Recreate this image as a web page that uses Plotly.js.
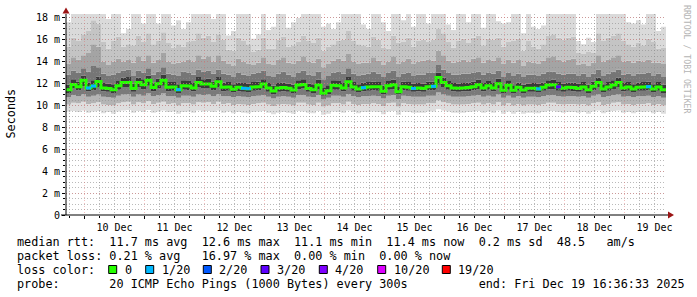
<!DOCTYPE html>
<html><head><meta charset="utf-8">
<script src="https://cdn.plot.ly/plotly-3.0.1.min.js"></script>
<style>html,body{margin:0;padding:0;background:#fff;}#chart{width:697px;height:297px;}</style>
</head><body><div id="chart"></div>
<script>
// ---------- data ----------
const startTime = '2025-12-09 16:36:33';
const endTime = '2025-12-19 16:36:33';
const stepHours = 2;

const median = [
11.45,11.93,11.72,12.30,11.60,11.78,12.20,11.60,11.55,11.45,
11.80,12.10,12.10,11.55,12.10,11.90,12.30,11.65,12.00,12.30,
11.66,11.70,11.45,11.80,11.78,11.60,12.10,11.96,11.96,11.75,
12.17,11.66,11.70,11.48,11.66,11.57,11.54,11.70,11.72,11.96,
11.60,11.32,11.60,11.65,11.57,11.42,11.87,11.93,11.55,11.45,
11.87,11.11,11.35,11.85,11.80,11.60,12.17,11.70,11.50,11.63,
11.70,11.72,11.72,11.30,11.80,11.90,11.26,11.72,11.68,11.55,
11.60,11.55,11.72,11.75,12.55,12.10,11.80,11.60,11.57,11.60,
11.65,11.72,11.90,11.60,11.80,11.60,12.00,11.40,11.85,11.40,
11.66,11.42,11.57,11.57,11.52,11.66,11.87,11.90,11.70,11.57,
11.66,11.65,11.55,11.70,11.45,11.75,12.10,11.50,11.70,11.87,
12.10,11.60,11.70,11.50,11.66,11.70,11.72,11.50,11.70,11.45];

const lostPings = [
0,0,0,0,1,1,0,0,0,0, 0,0,0,0,0,0,0,0,0,0,
0,0,1,0,0,0,0,0,0,0, 0,0,0,0,0,1,1,0,0,0,
0,0,0,0,0,0,0,0,0,0, 0,0,0,0,0,0,0,0,0,1,
0,0,0,0,0,0,0,0,0,1, 0,0,0,1,0,0,0,0,0,0,
0,0,0,0,0,0,0,0,0,0, 0,0,0,0,1,0,0,0,3,0,
0,0,0,0,0,0,0,0,0,0, 0,0,0,0,0,0,1,0,0,0];

const pingMin = [
9.45,9.50,9.40,9.55,9.35,9.45,9.50,9.30,9.40,9.25,
9.45,9.55,9.60,9.35,9.50,9.40,9.60,9.35,9.45,9.55,
9.40,9.45,9.25,9.40,9.45,9.35,9.55,9.45,9.50,9.40,
9.55,9.35,9.45,9.30,9.40,9.35,9.30,9.40,9.45,9.50,
9.35,9.20,9.35,9.40,9.35,9.25,9.50,9.45,9.35,9.30,
9.50,9.15,9.25,9.45,9.40,9.35,9.55,9.40,9.30,9.40,
9.40,9.45,9.40,9.20,9.45,9.50,9.15,9.45,9.40,9.35,
9.35,9.35,9.45,9.45,9.65,9.55,9.45,9.35,9.35,9.35,
9.40,9.45,9.50,9.35,9.45,9.35,9.55,9.25,9.45,9.25,
9.40,9.25,9.35,9.35,9.30,9.40,9.50,9.50,9.40,9.35,
9.40,9.40,9.35,9.40,9.25,9.45,9.55,9.30,9.40,9.50,
9.55,9.35,9.40,9.30,9.40,9.40,9.45,9.30,9.40,9.25];

const ping10 = [
10.10,10.25,10.20,10.35,10.15,10.20,10.30,10.10,10.05,10.00,
10.20,10.30,10.35,10.10,10.30,10.20,10.40,10.15,10.25,10.35,
10.15,10.20,10.00,10.20,10.20,10.10,10.30,10.25,10.30,10.15,
10.35,10.15,10.20,10.05,10.15,10.10,10.05,10.15,10.20,10.25,
10.10,9.95,10.10,10.15,10.10,10.00,10.25,10.25,10.10,10.05,
10.25,9.90,10.00,10.20,10.20,10.10,10.35,10.15,10.05,10.15,
10.15,10.20,10.15,9.95,10.20,10.25,9.90,10.20,10.15,10.10,
10.10,10.10,10.20,10.20,10.45,10.30,10.20,10.10,10.10,10.10,
10.15,10.20,10.25,10.10,10.20,10.10,10.30,10.00,10.20,10.00,
10.15,10.00,10.10,10.10,10.05,10.15,10.25,10.25,10.15,10.10,
10.15,10.15,10.10,10.15,10.00,10.20,10.30,10.05,10.15,10.25,
10.30,10.10,10.15,10.05,10.15,10.15,10.20,10.05,10.15,10.00];

const ping25 = [
10.75,10.95,10.85,11.05,10.80,10.90,11.00,10.80,10.75,10.70,
10.90,11.00,11.05,10.80,11.00,10.90,11.10,10.85,10.95,11.10,
10.85,10.85,10.70,10.90,10.90,10.80,11.00,10.95,11.00,10.85,
11.05,10.85,10.85,10.75,10.85,10.80,10.75,10.85,10.90,10.95,
10.80,10.65,10.80,10.85,10.80,10.70,10.95,10.95,10.80,10.75,
10.95,10.55,10.70,10.90,10.90,10.80,11.05,10.85,10.75,10.85,
10.85,10.90,10.85,10.65,10.90,10.95,10.60,10.90,10.85,10.80,
10.80,10.80,10.90,10.90,11.20,11.00,10.90,10.80,10.80,10.80,
10.85,10.90,10.95,10.80,10.90,10.80,11.00,10.70,10.90,10.70,
10.85,10.70,10.80,10.80,10.75,10.85,10.95,10.95,10.85,10.80,
10.85,10.85,10.80,10.85,10.70,10.90,11.00,10.75,10.85,10.95,
11.00,10.80,10.85,10.75,10.85,10.85,10.90,10.75,10.85,10.70];

const ping40 = [
11.15,11.55,11.40,11.75,11.30,11.40,11.70,11.30,11.25,11.15,
11.45,11.65,11.70,11.25,11.65,11.50,11.80,11.30,11.60,11.80,
11.30,11.35,11.15,11.45,11.40,11.30,11.65,11.55,11.60,11.40,
11.70,11.30,11.35,11.20,11.30,11.25,11.20,11.35,11.40,11.55,
11.25,11.05,11.25,11.30,11.25,11.10,11.50,11.55,11.25,11.15,
11.45,10.90,11.05,11.45,11.45,11.30,11.70,11.35,11.20,11.30,
11.35,11.40,11.35,11.05,11.45,11.50,11.00,11.40,11.35,11.25,
11.30,11.25,11.40,11.40,11.90,11.65,11.45,11.30,11.25,11.30,
11.30,11.40,11.50,11.30,11.45,11.30,11.60,11.10,11.45,11.10,
11.35,11.10,11.25,11.25,11.20,11.35,11.50,11.50,11.35,11.25,
11.35,11.30,11.25,11.35,11.15,11.40,11.65,11.20,11.35,11.50,
11.65,11.30,11.35,11.20,11.35,11.35,11.40,11.20,11.35,11.15];

const ping60 = [
11.90,12.40,12.20,12.75,12.10,12.30,12.65,12.05,12.00,11.95,
12.25,12.55,12.60,12.00,12.55,12.40,12.75,12.10,12.45,12.80,
12.15,12.15,11.95,12.30,12.25,12.05,12.60,12.40,12.45,12.20,
12.60,12.10,12.15,11.95,12.10,12.05,12.00,12.15,12.20,12.40,
12.05,11.80,12.05,12.10,12.00,11.90,12.30,12.40,12.00,11.95,
12.35,11.60,11.85,12.30,12.25,12.05,12.60,12.15,11.95,12.10,
12.15,12.20,12.15,11.80,12.25,12.35,11.75,12.20,12.15,12.00,
12.05,12.00,12.20,12.20,13.00,12.55,12.25,12.05,12.00,12.05,
12.10,12.20,12.35,12.05,12.25,12.05,12.45,11.85,12.30,11.85,
12.10,11.90,12.00,12.05,12.00,12.10,12.30,12.35,12.15,12.00,
12.10,12.10,12.00,12.15,11.90,12.20,12.55,11.95,12.15,12.30,
12.55,12.05,12.15,11.95,12.10,12.15,12.20,11.95,12.15,11.90];

const ping75 = [
12.8,13.2,13.0,13.4,13.1,13.6,13.5,12.9,12.7,12.8,
13.0,13.2,13.3,12.7,13.2,13.0,13.4,12.8,13.1,13.5,
12.9,12.8,12.7,13.1,13.0,12.8,13.3,13.1,13.2,12.9,
13.3,12.9,12.8,12.6,13.0,12.8,12.7,12.9,13.0,13.2,
12.7,12.6,12.9,13.1,12.8,12.6,13.0,13.2,12.8,12.7,
13.1,12.4,12.7,13.0,13.1,12.9,13.4,12.9,12.7,12.8,
12.9,13.1,12.9,12.6,13.0,13.2,12.6,12.9,13.0,12.7,
12.8,12.8,13.0,13.0,13.7,13.3,13.0,12.8,12.8,12.9,
12.9,13.0,13.1,12.8,13.0,12.9,13.2,12.6,13.0,12.7,
12.9,12.6,12.8,12.8,12.7,12.9,13.1,13.1,12.9,12.8,
12.9,12.9,12.7,12.9,12.6,12.9,13.3,12.7,12.9,13.1,
13.3,12.8,12.9,12.7,12.9,12.9,13.0,12.7,12.9,12.6];

const ping85 = [
13.8,14.4,14.2,14.6,14.8,15.6,15.4,14.0,13.7,14.0,
14.3,14.0,14.2,13.9,14.5,14.1,14.6,13.9,14.2,14.8,
14.0,13.8,13.9,14.0,14.2,14.0,14.6,14.3,14.5,14.0,
14.6,14.1,13.8,13.6,14.3,14.0,13.8,13.7,13.9,14.4,
13.8,13.7,14.2,14.4,13.9,13.8,14.1,14.5,14.0,13.9,
14.3,13.5,13.8,14.1,14.3,14.1,14.7,14.0,13.8,13.9,
13.9,14.4,14.1,13.7,14.0,14.5,13.8,14.0,14.3,13.8,
14.0,14.1,14.2,14.1,15.0,14.6,14.1,13.9,14.0,14.2,
14.0,14.3,14.4,13.9,14.2,14.1,14.4,13.8,14.2,13.9,
14.2,13.6,14.0,13.9,13.8,14.1,14.4,14.5,14.2,14.0,
14.2,14.3,13.7,13.8,13.6,13.9,14.6,14.0,14.2,14.4,
14.6,14.0,14.1,13.9,14.1,14.0,14.2,13.9,13.9,13.8];

const ping92 = [
15.4,16.2,15.9,16.5,16.8,17.8,17.5,15.8,15.2,15.9,
16.3,15.4,15.6,15.5,16.4,15.8,16.6,15.6,15.9,16.7,
15.7,15.3,15.6,15.4,15.8,15.9,16.6,16.2,16.4,15.8,
16.5,16.0,15.1,15.0,16.2,15.9,15.6,14.9,15.1,16.2,
15.2,15.2,16.0,16.3,15.4,15.5,15.8,16.4,15.9,15.7,
16.2,15.0,15.4,15.6,15.9,16.0,16.8,15.9,15.6,15.5,
15.4,16.3,16.0,15.3,15.2,16.4,15.7,15.8,16.2,15.4,
15.9,16.0,15.8,16.0,17.0,16.6,15.8,15.3,15.9,16.1,
15.7,16.2,16.4,15.5,16.1,16.0,16.2,15.4,15.8,15.9,
16.1,15.0,15.9,15.4,15.2,15.6,16.4,16.5,16.2,16.0,
16.2,16.3,14.8,14.7,14.9,14.8,16.6,15.9,16.2,16.4,
16.6,15.9,15.6,15.4,15.7,15.5,16.1,15.8,15.2,15.3];

const pingMax = [
17.6,18.4,18.4,18.4,18.4,18.4,18.4,18.4,17.9,18.4,
18.4,16.6,17.0,18.4,18.4,17.5,18.4,18.4,17.5,18.4,
18.4,17.3,17.8,17.0,17.6,18.4,18.4,18.4,18.4,17.9,
18.4,18.4,16.4,16.8,18.4,18.4,18.4,16.1,16.5,18.4,
16.9,17.2,18.4,18.4,17.1,17.6,18.0,18.4,18.4,18.4,
18.4,17.2,17.5,17.0,17.6,18.4,18.4,18.4,18.4,17.4,
17.0,18.4,18.4,17.6,16.8,18.4,18.4,17.8,18.4,17.2,
18.4,18.4,17.5,18.4,18.4,18.4,17.4,16.9,18.4,18.4,
17.6,18.4,18.4,17.1,18.4,18.4,17.7,17.5,17.6,18.4,
18.4,16.6,18.4,17.2,17.0,17.3,18.4,18.4,18.4,18.4,
18.4,18.4,15.9,15.6,16.2,15.8,18.4,18.4,18.4,18.4,
18.4,18.4,17.6,17.5,17.8,17.4,18.4,18.4,16.8,17.2];

const lossLevels = [0, 1, 2, 3, 4, 10, 19];
const lossLabels = ['0', '1/20', '2/20', '3/20', '4/20', '10/20', '19/20'];
const lossColors = ['#26ff00', '#00b8ff', '#0059ff', '#5e00ff', '#7e00ff', '#dd00ff', '#ff0000'];

const yTickVals = [0, 2, 4, 6, 8, 10, 12, 14, 16, 18];
const yTickText = ['0', '2 m', '4 m', '6 m', '8 m', '10 m', '12 m', '14 m', '16 m', '18 m'];

const rttStats = ['11.7', '12.6', '11.1', '11.4', '0.2', '48.5'];
const lossStats = ['0.21', '16.97', '0.00', '0.00'];
const probeText = '20 ICMP Echo Pings (1000 Bytes) every 300s';
const endText = 'end: Fri Dec 19 16:36:33 2025';

// ---------- build ----------
const N = median.length;
const t0 = Date.parse(startTime.replace(' ', 'T') + 'Z');
function fmt(ms) { return new Date(ms).toISOString().slice(0, 19).replace('T', ' '); }
const times = [];
for (let i = 0; i <= N; i++) times.push(fmt(t0 + i * stepHours * 3600000));
const ext = a => a.concat([a[a.length - 1]]);

const bounds = [pingMin, ping10, ping25, ping40, ping60, ping75, ping85, ping92, pingMax];
const bandColors = ['#dedede', '#b4b4b4', '#7a7a7a', '#3a3a3a', '#767676', '#a4a4a4', '#c4c4c4', '#dadada'];

const traces = [];
bounds.forEach((b, k) => {
  traces.push({
    type: 'scatter', mode: 'lines', x: times, y: ext(b),
    line: { shape: 'hv', width: 0, color: 'rgba(0,0,0,0)' },
    fill: k === 0 ? 'none' : 'tonexty',
    fillcolor: k === 0 ? undefined : bandColors[k - 1],
    hoverinfo: 'skip', xaxis: 'x', yaxis: 'y'
  });
});

// median line (loss 0 colour, full step line)
traces.push({
  type: 'scatter', mode: 'lines', x: times, y: ext(median),
  line: { shape: 'hv', width: 3, color: lossColors[0] },
  hoverinfo: 'skip', xaxis: 'x', yaxis: 'y'
});
// loss-coloured segments
function levelOf(n) { let idx = 0; lossLevels.forEach((l, j) => { if (n >= l) idx = j; }); return idx; }
for (let j = 1; j < lossLevels.length; j++) {
  const xs = [], ys = [];
  for (let i = 0; i < N; i++) {
    if (lostPings[i] > 0 && levelOf(lostPings[i]) === j) {
      xs.push(times[i], times[i + 1], null); ys.push(median[i], median[i], null);
    }
  }
  if (xs.length) traces.push({
    type: 'scatter', mode: 'lines', x: xs, y: ys, connectgaps: false,
    line: { width: 3, color: lossColors[j] }, hoverinfo: 'skip', xaxis: 'x', yaxis: 'y'
  });
}
// dummy trace for grid subplot
traces.push({ type: 'scatter', mode: 'lines', x: [startTime], y: [0], xaxis: 'x2', yaxis: 'y2', line: { width: 0 }, hoverinfo: 'skip' });

const NB = '\u00a0';
const sp = n => NB.repeat(n);
const row1 = 'median' + NB + 'rtt:' + sp(2) + rttStats[0] + NB + 'ms' + NB + 'avg' + sp(2) + rttStats[1] + NB + 'ms' + NB + 'max' + sp(2) +
  rttStats[2] + NB + 'ms' + NB + 'min' + sp(2) + rttStats[3] + NB + 'ms' + NB + 'now' + sp(2) + rttStats[4] + NB + 'ms' + NB + 'sd' + sp(2) + rttStats[5] + sp(3) + 'am/s';
const row2 = 'packet' + NB + 'loss:' + NB + lossStats[0] + NB + '%' + NB + 'avg' + sp(3) + lossStats[1] + NB + '%' + NB + 'max' + sp(2) +
  lossStats[2] + NB + '%' + NB + 'min' + sp(2) + lossStats[3] + NB + '%' + NB + 'now';
const row3 = 'loss' + NB + 'color:';
const row4 = 'probe:' + sp(7) + probeText.replace(/ /g, NB) + sp(10) + endText.replace(/ /g, NB);

const L = 66; const B = 215; // plot left / bottom in px
const mono = 'DejaVu Sans Mono';
const legFont = { family: mono, size: 11.8, color: '#000' };
function ann(text, px, py, extra) {
  return Object.assign({
    text: text, showarrow: false, xref: 'paper', yref: 'paper', x: 0, y: 0,
    xanchor: 'left', yanchor: 'middle', xshift: px - L, yshift: B - py, borderpad: 0, font: legFont
  }, extra || {});
}
const annotations = [
  ann(row1, 16, 241.5), ann(row2, 16, 255.5), ann(row3, 16, 269.5), ann(row4, 16, 283.5),
  ann('Seconds', 10, 113.5, { xanchor: 'center', textangle: -90 }),
  ann('RRDTOOL' + NB + '/' + NB + 'TOBI' + NB + 'OETIKER', 687, 59, { xanchor: 'center', textangle: 90, font: { family: mono, size: 8.2, color: '#b4b4b4' } })
];
const boxLeft = [108.7, 145.7, 203.3, 261, 319.3, 377.7, 442.3];
const shapes = [];
lossLabels.forEach((lab, j) => {
  annotations.push(ann(lab, boxLeft[j] + 15, 269.5));
  shapes.push({
    type: 'rect', xref: 'paper', yref: 'paper', xsizemode: 'pixel', ysizemode: 'pixel', xanchor: 0, yanchor: 0,
    x0: boxLeft[j] - L, x1: boxLeft[j] - L + 8, y0: B - 273.5, y1: B - 265.5,
    fillcolor: lossColors[j], line: { color: '#000', width: 1 }
  });
});
// axis lines and arrows
shapes.push({ type: 'line', xref: 'paper', yref: 'paper', x0: 0, x1: 0, y0: 0, y1: 1, line: { color: '#000', width: 1 } });
shapes.push({ type: 'line', xref: 'paper', yref: 'paper', xsizemode: 'pixel', xanchor: 0, x0: -5, x1: 603, y0: 0, y1: 0, line: { color: '#000', width: 1 } });
shapes.push({ type: 'path', xref: 'paper', yref: 'paper', xsizemode: 'pixel', ysizemode: 'pixel', xanchor: 0, yanchor: 1,
  path: 'M -3.5 0.5 L 3.5 0.5 L 0 6.5 Z', fillcolor: '#9b1414', line: { width: 0 } });
shapes.push({ type: 'path', xref: 'paper', yref: 'paper', xsizemode: 'pixel', ysizemode: 'pixel', xanchor: 1, yanchor: 0,
  path: 'M 2 -3.5 L 2 3.5 L 8 0 Z', fillcolor: '#9b1414', line: { width: 0 } });

const majorGrid = 'rgba(225,110,110,0.45)';
const minorGrid = 'rgba(140,140,140,0.6)';
const tickFont = { family: mono, size: 10, color: '#000' };
const layout = {
  width: 697, height: 297, margin: { l: L, r: 31, t: 14, b: 82 },
  paper_bgcolor: '#ffffff', plot_bgcolor: 'rgba(0,0,0,0)', showlegend: false,
  font: { family: mono, size: 10, color: '#000' },
  xaxis: { type: 'date', range: [startTime, endTime], showgrid: false, showticklabels: false, ticks: '', zeroline: false, showline: false },
  yaxis: { range: [0, 18.36], showgrid: false, showticklabels: false, ticks: '', zeroline: false, showline: false },
  xaxis2: {
    type: 'date', anchor: 'y2', range: [startTime, endTime], tick0: '2025-12-10', dtick: 86400000,
    ticklabelmode: 'period', tickformat: '%d %b', tickfont: tickFont,
    showgrid: true, gridcolor: majorGrid, griddash: '1px,2px', gridwidth: 1,
    ticks: 'outside', ticklen: 3, tickcolor: '#000', tickwidth: 1, zeroline: false, showline: false,
    minor: { tick0: '2025-12-10', dtick: 21600000, showgrid: true, gridcolor: minorGrid, griddash: '1px,2px', ticks: 'outside', ticklen: 2, tickcolor: '#000' }
  },
  yaxis2: {
    anchor: 'x2', range: [0, 18.36], tickmode: 'array', tickvals: yTickVals, ticktext: yTickText, tickfont: tickFont,
    showgrid: true, gridcolor: majorGrid, griddash: '1px,2px', gridwidth: 1,
    ticks: 'outside', ticklen: 3, tickcolor: '#000', zeroline: false, showline: false,
    minor: { tickmode: 'linear', tick0: 0, dtick: 0.5, showgrid: true, gridcolor: minorGrid, griddash: '1px,2px', ticks: 'outside', ticklen: 2, tickcolor: '#000' }
  },
  annotations: annotations, shapes: shapes
};
Plotly.newPlot('chart', traces, layout, { staticPlot: true, displayModeBar: false });
</script></body></html>
